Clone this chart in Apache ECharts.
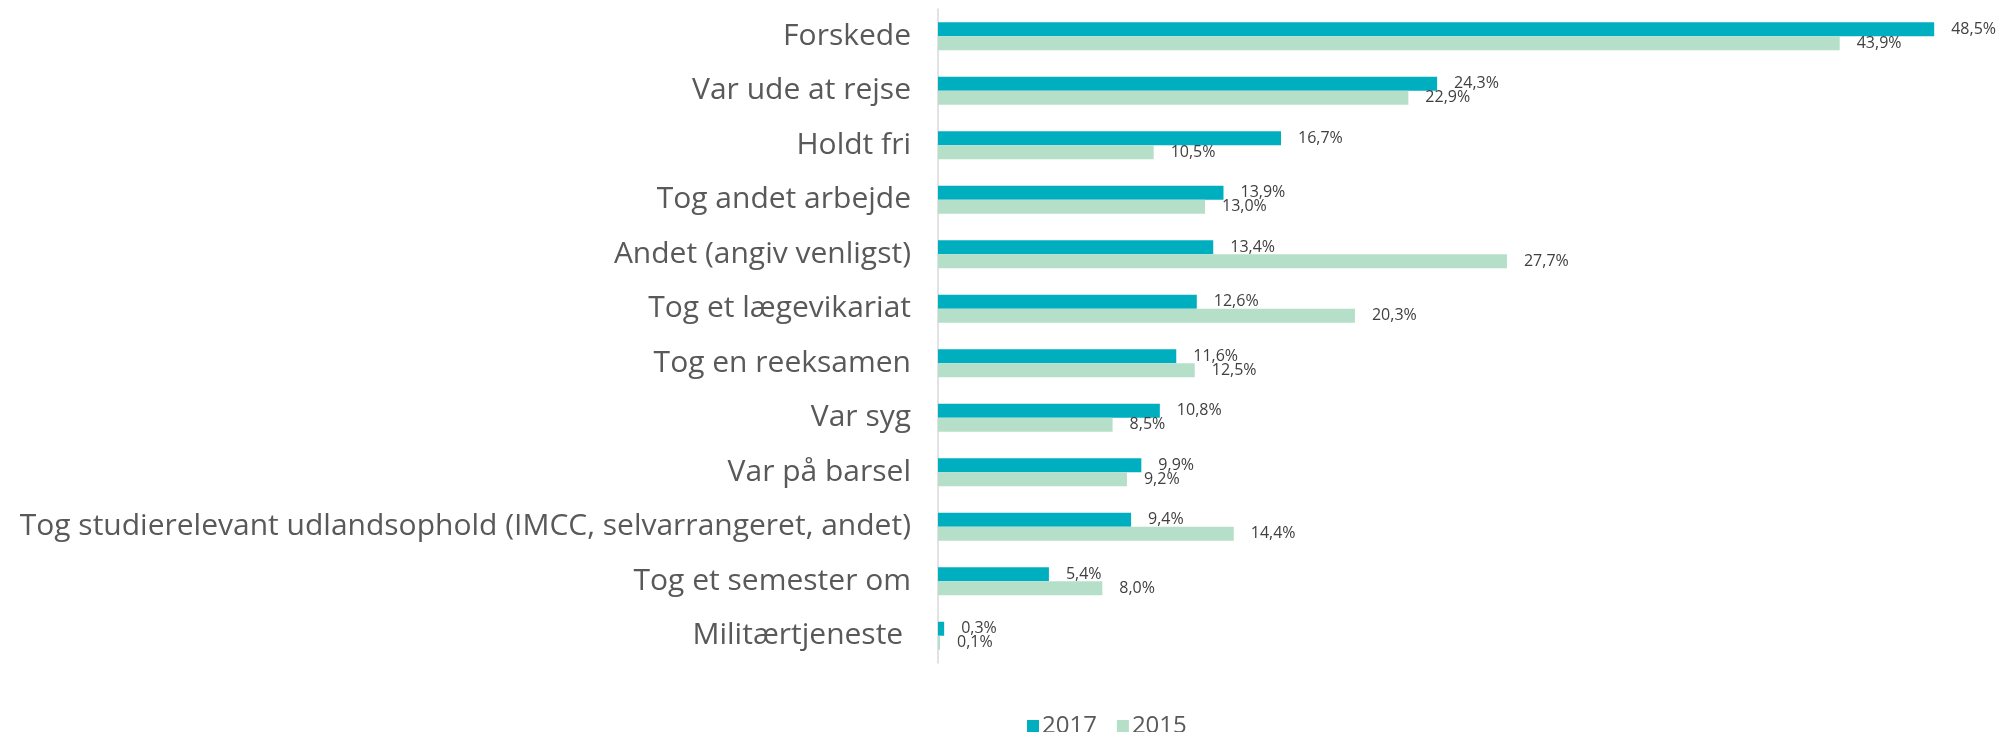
<!DOCTYPE html>
<html>
<head>
<meta charset="utf-8">
<script src="https://cdn.jsdelivr.net/npm/echarts@6/dist/echarts.min.js"></script>
<style>
  html, body { margin: 0; padding: 0; background: #fff; }
  #main { width: 2006px; height: 732px; }
</style>
</head>
<body>
<div id="main"></div>
<script>
// kategorier, oppefra og ned
var categories = [
  'Forskede',
  'Var ude at rejse',
  'Holdt fri',
  'Tog andet arbejde',
  'Andet (angiv venligst)',
  'Tog et lægevikariat',
  'Tog en reeksamen',
  'Var syg',
  'Var på barsel',
  'Tog studierelevant udlandsophold (IMCC, selvarrangeret, andet)',
  'Tog et semester om',
  'Militærtjeneste '
];
var values2017 = [48.5, 24.3, 16.7, 13.9, 13.4, 12.6, 11.6, 10.8, 9.9, 9.4, 5.4, 0.3];
var values2015 = [43.9, 22.9, 10.5, 13.0, 27.7, 20.3, 12.5, 8.5, 9.2, 14.4, 8.0, 0.1];
var seriesNames = ['2017', '2015'];

var FONT = '"Open Sans", sans-serif';

function pct(p) {
  return p.value.toFixed(1).replace('.', ',') + '%';
}

var chart = echarts.init(document.getElementById('main'));

chart.setOption({
  animation: false,
  backgroundColor: '#ffffff',
  color: ['#00afbf', '#b6dfca'],
  grid: { left: 938, right: 41, top: 9, bottom: 69, containLabel: false },
  legend: {
    data: seriesNames,
    left: 1022,
    top: 709,
    icon: 'rect',
    itemWidth: 12,
    itemHeight: 12,
    itemGap: 20,
    textStyle: { fontFamily: FONT, fontSize: 24, color: '#595959', padding: [0, 0, 0, -2] }
  },
  xAxis: {
    type: 'value',
    min: 0,
    max: 50,
    show: false
  },
  yAxis: {
    type: 'category',
    data: categories,
    inverse: true,
    axisLine: { show: true, lineStyle: { color: '#d9d9d9', width: 1.5 } },
    axisTick: { show: false },
    axisLabel: { fontFamily: FONT, fontSize: 30, color: '#595959', margin: 27 }
  },
  series: [
    {
      name: seriesNames[0],
      type: 'bar',
      data: values2017,
      barWidth: 14,
      barGap: '0%',
      label: {
        show: true, position: 'right', distance: 17, formatter: pct,
        fontFamily: FONT, fontSize: 16, color: '#404040'
      }
    },
    {
      name: seriesNames[1],
      type: 'bar',
      data: values2015,
      barWidth: 14,
      label: {
        show: true, position: 'right', distance: 17, formatter: pct,
        fontFamily: FONT, fontSize: 16, color: '#404040'
      }
    }
  ]
});
</script>
</body>
</html>
